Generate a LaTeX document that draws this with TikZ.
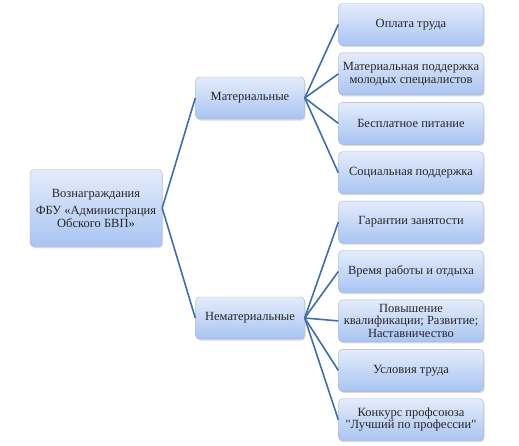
\documentclass[tikz,border=0pt]{standalone}
\usepackage{fontspec}
\setmainfont{Liberation Serif}
\usetikzlibrary{positioning,shadows}
\definecolor{boxtop}{HTML}{E4ECFB}
\definecolor{boxbot}{HTML}{A9C4F2}
\definecolor{boxline}{HTML}{A8B4C8}
\definecolor{linkblue}{HTML}{3F6EA8}

\begin{document}
\begin{tikzpicture}[x=1pt,y=1pt,node distance=7pt,
    box/.style={draw=boxline,rounded corners=4pt,top color=boxtop,bottom color=boxbot,
      drop shadow={shadow xshift=1pt,shadow yshift=-1.5pt,opacity=0.3},
      font=\rmfamily\fontsize{12.5}{12.5}\selectfont,text=black!85,align=center,inner sep=1pt,minimum height=42pt},
    leaf/.style={box,minimum width=145pt},
    hub/.style={box,minimum width=109pt},
    link/.style={draw=linkblue,line width=1.6pt}]
    \useasboundingbox (0,0) rectangle (519,-445);
    % Root and the two groups
    \node[box,minimum width=132pt,minimum height=77pt] (root) at (96,-208)
      {Вознаграждания\\[5pt]ФБУ «Администрация\\Обского БВП»};
    \node[hub] (mat) at (250,-98) {Материальные};
    \node[hub] (nemat) at (250,-318) {Нематериальные};
    % Material rewards
    \node[leaf] (pay) at (411,-24.5) {Оплата труда};
    \node[leaf,below=of pay] (young) {Материальная поддержка\\молодых специалистов};
    \node[leaf,below=of young] (food) {Бесплатное питание};
    \node[leaf,below=of food] (social) {Социальная поддержка};
    % Non-material rewards
    \node[leaf,below=of social] (job) {Гарантии занятости};
    \node[leaf,below=of job] (time) {Время работы и отдыха};
    \node[leaf,below=of time] (skill) {Повышение\\квалификации; Развитие;\\Наставничество};
    \node[leaf,below=of skill] (cond) {Условия труда};
    \node[leaf,below=of cond] (contest) {Конкурс профсоюза\\\textquotedbl Лучший по профессии\textquotedbl};
    % Connectors
    \draw[link] (root.east) -- (mat.west);
    \draw[link] (root.east) -- (nemat.west);
    \draw[link] (mat.east) -- (pay.west);
    \draw[link] (mat.east) -- (young.west);
    \draw[link] (mat.east) -- (food.west);
    \draw[link] (mat.east) -- (social.west);
    \draw[link] (nemat.east) -- (job.west);
    \draw[link] (nemat.east) -- (time.west);
    \draw[link] (nemat.east) -- (skill.west);
    \draw[link] (nemat.east) -- (cond.west);
    \draw[link] (nemat.east) -- (contest.west);
\end{tikzpicture}
\end{document}
